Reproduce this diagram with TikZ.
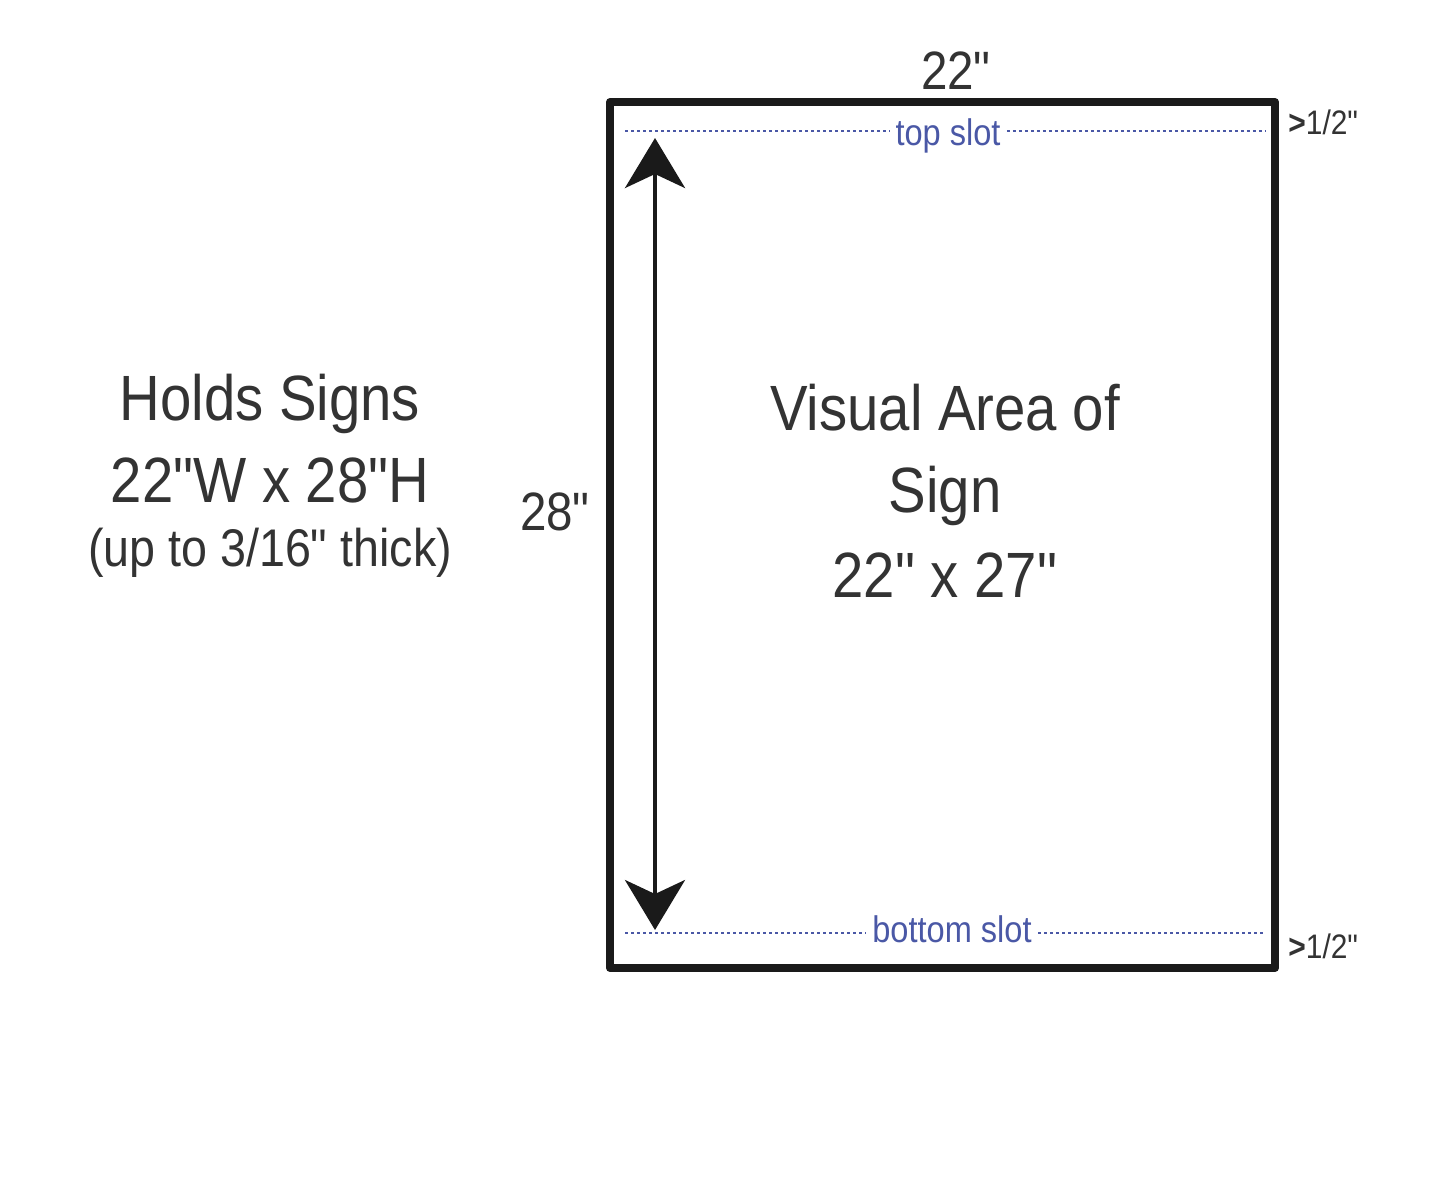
\documentclass[tikz,border=0pt]{standalone}
\usepackage{fontspec}
\setmainfont{Liberation Sans}[FakeStretch=0.88,Ligatures=TeXOff]
\usetikzlibrary{arrows.meta}
\definecolor{txt}{HTML}{333333}
\definecolor{slotblue}{HTML}{4A58A6}
\definecolor{frame}{HTML}{1A1A1A}
\begin{document}
\begin{tikzpicture}[x=0.5pt,y=-0.5pt,
  lbl/.style={anchor=base,inner sep=0pt,text=txt},
  big/.style={lbl,font=\fontsize{32}{36}\selectfont},
  mid/.style={lbl,font=\fontsize{27}{31}\selectfont},
  slotlbl/.style={anchor=base,inner sep=3pt,text=slotblue,fill=white,font=\fontsize{18.5}{21}\selectfont},
  slotline/.style={slotblue,line width=1.3pt,dash pattern=on 1.3pt off 1.7pt},
  half/.style={anchor=base west,inner sep=0pt,text=txt,font=\fontsize{17}{19}\selectfont},
  dim/.style={frame,line width=2pt,{Stealth[length=25pt,width=30pt,inset=7pt]}-{Stealth[length=25pt,width=30pt,inset=7pt]}}
]
\useasboundingbox (0,0) rectangle (1440,1180);
\fill[white] (0,0) rectangle (1440,1180);

% frame
\draw[frame,line width=4pt,line join=round] (610,102) rectangle (1275,968);

% slots
\coordinate (tl) at (625,131);
\coordinate (tr) at (1266,131);
\coordinate (bl) at (625,933);
\coordinate (br) at (1266,933);
\node[slotlbl] (topslot) at (948,145) {top slot};
\node[slotlbl] (botslot) at (952,942) {bottom slot};
\draw[slotline] (tl) -- (tl -| topslot.west);
\draw[slotline] (tr -| topslot.east) -- (tr);
\draw[slotline] (bl) -- (bl -| botslot.west);
\draw[slotline] (br -| botslot.east) -- (br);

% half-inch labels
\node[half] (htop) at (1288,134) {{\bfseries >}1/2"};
\node[half] (hbot) at (1288,958) {{\bfseries >}1/2"};

% dimension arrow
\coordinate (atop) at (655,138);
\coordinate (abot) at (655,930);
\draw[dim] (abot) -- (atop);

% dimension labels
\node[mid] (w22) at (956,89) {22"};
\node[mid] (h28) at (555,530) {28"};

% left text
\node[big] (l1) at (270,420) {Holds Signs};
\node[big] (l2) at (270,502) {22"W x 28"H};
\node[lbl,font=\fontsize{26.5}{30}\selectfont] (l3) at (270,566) {(up to 3/16" thick)};

% center text
\node[big] (c1) at (945,430) {Visual Area of};
\node[big] (c2) at (945,512) {Sign};
\node[big] (c3) at (945,597) {22" x 27"};
\end{tikzpicture}
\end{document}
